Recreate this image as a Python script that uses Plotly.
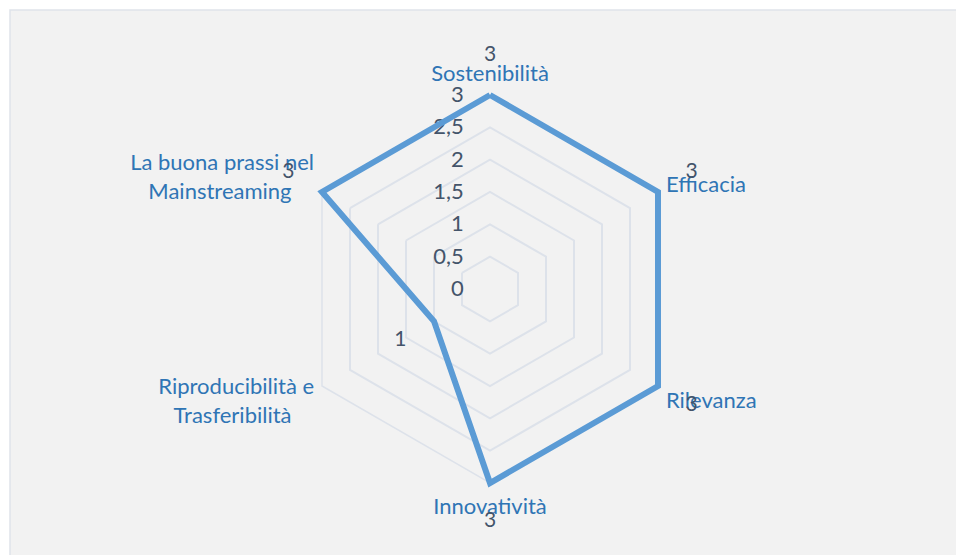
import plotly.graph_objects as go

NB = "\u00a0"
categories = ["Sostenibilità", "Efficacia", "Rilevanza", "Innovatività",
              "Riproducibilità e<br>Trasferibilità" + NB * 4 + "<br>" + NB,
              "La buona prassi nel<br>Mainstreaming" + NB * 4]
values = [3, 3, 3, 3, 1, 3]
label_offset = 0.6
r_max = 3

LINE = "#5b9bd5"
CAT = "#2f75b5"
TXT = "#44546a"
GRID = "#dde2ea"
BG = "#f2f2f2"
FONT = "Lato"

W, H = 956, 555
CX, CY, R = 490, 289, 194
R2 = R * (r_max + label_offset) / r_max

fig = go.Figure()
# invisible anchor trace for the grid subplot (keeps category order)
fig.add_trace(go.Scatterpolar(
    r=[None] * len(categories), theta=categories, mode="lines",
    hoverinfo="skip", showlegend=False,
))
fig.add_trace(go.Scatterpolar(
    r=values + values[:1], theta=categories + categories[:1], subplot="polar2",
    mode="lines", line=dict(color=LINE, width=6), hoverinfo="skip",
    cliponaxis=False,
))
fig.add_trace(go.Scatterpolar(
    r=[v + label_offset for v in values], theta=categories, subplot="polar2",
    mode="text", text=[str(v) for v in values], cliponaxis=False,
    textfont=dict(family=FONT, size=21, color=TXT), hoverinfo="skip",
))

fig.update_layout(
    width=W, height=H,
    margin=dict(l=0, r=0, t=0, b=0),
    paper_bgcolor="white",
    separators=",.",
    showlegend=False,
    font=dict(family=FONT, size=21, color=TXT),
    shapes=[dict(type="rect", xref="paper", yref="paper",
                 x0=10/W, x1=1.02, y0=-0.02, y1=1-10/H,
                 fillcolor=BG, line=dict(color="#dfe3ea", width=1.5), layer="below")],
    polar=dict(
        domain=dict(x=[(CX-R)/W, (CX+R)/W], y=[(H-CY-R)/H, (H-CY+R)/H]),
        bgcolor=BG,
        gridshape="linear",
        radialaxis=dict(range=[0, r_max], dtick=0.5, tick0=0, angle=90, tickangle=90,
                        side="counterclockwise",
                        showline=False, ticks="outside", ticklen=18,
                        tickcolor="rgba(0,0,0,0)", gridcolor=GRID, gridwidth=1.5,
                        tickfont=dict(family=FONT, size=22, color=TXT)),
        angularaxis=dict(rotation=90, direction="clockwise", showgrid=False,
                         categoryarray=categories, categoryorder="array",
                         showline=True, linecolor=GRID, linewidth=1.5,
                         ticks="outside", ticklen=4, tickcolor="rgba(0,0,0,0)",
                         tickfont=dict(family=FONT, size=22, color=CAT)),
    ),
    polar2=dict(
        domain=dict(x=[(CX-R2)/W, (CX+R2)/W], y=[(H-CY-R2)/H, (H-CY+R2)/H]),
        bgcolor="rgba(0,0,0,0)",
        radialaxis=dict(range=[0, r_max + label_offset], visible=False),
        angularaxis=dict(rotation=90, direction="clockwise", visible=False,
                         categoryarray=categories, categoryorder="array"),
    ),
)
fig.write_html("out.html", config={"displayModeBar": False},
               post_script="document.body.style.margin='0px';")
